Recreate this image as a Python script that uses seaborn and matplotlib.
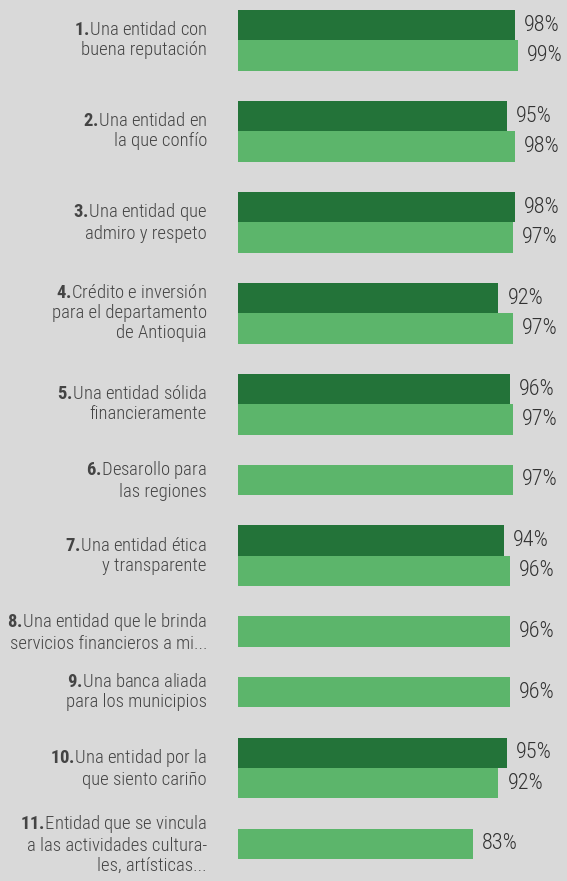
import matplotlib
matplotlib.use("Agg")
import matplotlib.pyplot as plt
import matplotlib.transforms as mtransforms
from matplotlib import font_manager
import pandas as pd
import seaborn as sns

# --- data -------------------------------------------------------------
numbers = ["1.", "2.", "3.", "4.", "5.", "6.", "7.", "8.", "9.", "10.", "11."]
texts = [
    "Una entidad con\nbuena reputación",
    "Una entidad en\nla que confío",
    "Una entidad que\nadmiro y respeto",
    "Crédito e inversión\npara el departamento\nde Antioquia",
    "Una entidad sólida\nfinancieramente",
    "Desarollo para\nlas regiones",
    "Una entidad ética\ny transparente",
    "Una entidad que le brinda\nservicios financieros a mi...",
    "Una banca aliada\npara los municipios",
    "Una entidad por la\nque siento cariño",
    "Entidad que se vincula\na las actividades cultura-\nles, artísticas...",
]
dark_values = [98, 95, 98, 92, 96, None, 94, None, None, 95, None]
light_values = [99, 98, 97, 97, 97, 97, 96, 96, 96, 92, 83]

DARK = "#237339"
LIGHT = "#5cb56b"
BG = "#d9d9d9"

# pick a condensed face if one is installed
installed = {f.name for f in font_manager.fontManager.ttflist}
condensed = [n for n in ("Roboto Condensed", "Liberation Sans Narrow",
                         "Noto Sans Condensed", "Open Sans Condensed",
                         "DejaVu Sans Condensed") if n in installed]
if condensed:
    FONT, FS, FS_VAL = condensed[0], 13.4, 16
else:
    FONT, FS, FS_VAL = "Roboto", 10.5, 12.5

# one slot per bar, one empty slot between items
rows = []
order = []
centers = []
for i in range(len(numbers)):
    group = []
    for serie, val in (("dark", dark_values[i]), ("light", light_values[i])):
        if val is None:
            continue
        slot = f"{i}-{serie}"
        group.append(len(order))
        order.append(slot)
        rows.append({"slot": slot, "serie": serie, "value": val})
    centers.append(sum(group) / len(group))
    if i < len(numbers) - 1:
        order.append(f"gap{i}")
df = pd.DataFrame(rows)

sns.set_style("white")
plt.rcParams["font.family"] = [FONT, "DejaVu Sans"]
plt.rcParams["mathtext.fontset"] = "custom"
plt.rcParams["mathtext.rm"] = FONT + ":light"
plt.rcParams["mathtext.bf"] = FONT + ":bold"

W, H = 567, 881
fig = plt.figure(figsize=(W / 100, H / 100), dpi=100, facecolor=BG)
x0, top, bottom = 238, 10, 859
ax = fig.add_axes([x0 / W, (H - bottom) / H, (W - x0) / W, (bottom - top) / H])
ax.set_facecolor(BG)

sns.barplot(
    data=df, y="slot", x="value", hue="serie", order=order,
    hue_order=["dark", "light"], palette={"dark": DARK, "light": LIGHT},
    dodge=False, width=1.0, orient="h", legend=False, ax=ax, linewidth=0,
    saturation=1,
)
ax.set_xlim(0, 100 * (W - x0) / 283)
ax.set_ylim(len(order) - 0.5, -0.5)
ax.axis("off")

for cont in ax.containers:
    ax.bar_label(cont, fmt="%d%%", padding=6.5, fontsize=FS_VAL, color="#333333",
                 fontweight="light")

trans = mtransforms.blended_transform_factory(fig.transFigure, ax.transData)
for num, txt, c in zip(numbers, texts, centers):
    ax.text(207 / W, c, rf"$\mathbf{{{num}}}\!$" + txt, transform=trans,
            ha="right", va="center", multialignment="right",
            fontsize=FS, fontweight="light", color="#444444",
            linespacing=1.15, clip_on=False)

fig.savefig("out.png", dpi=100, facecolor=BG)
